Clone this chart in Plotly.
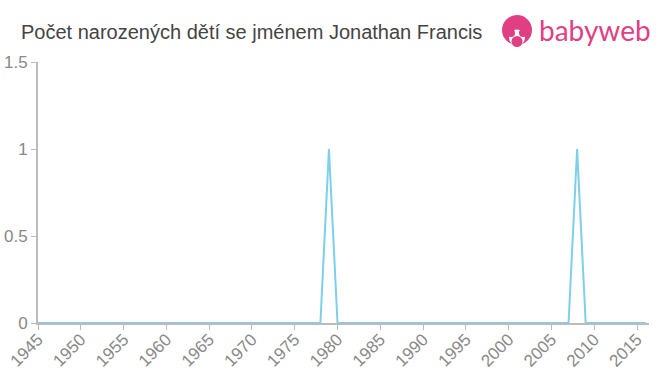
import plotly.graph_objects as go

years = list(range(1945, 2017))
peak_years = [1979, 2008]
peak_counts = [1, 1]
counts = [peak_counts[peak_years.index(y)] if y in peak_years else 0 for y in years]

x_ticks = list(range(1945, 2016, 5))
y_ticks = [0, 0.5, 1, 1.5]
y_tick_labels = ["0", "0.5", "1", "1.5"]

W, H = 660, 375
ML, MR, MT, MB = 38, 11, 62, 52
PW, PH = W - ML - MR, H - MT - MB
FONT = "Liberation Sans, Arial, sans-serif"

def px(x):
    return (x - ML) / PW

def py(y):
    return (H - MB - y) / PH

fig = go.Figure()
fig.add_trace(go.Scatter(x=years, y=counts, mode="lines",
                         line=dict(color="#7dcfec", width=2), hoverinfo="x+y"))

shapes = []
def circle(cx, cy, r, color):
    shapes.append(dict(type="circle", xref="paper", yref="paper",
                       x0=px(cx - r), x1=px(cx + r), y0=py(cy + r), y1=py(cy - r),
                       fillcolor=color, line=dict(width=0), layer="above"))

circle(517, 30, 15, "#e03f84")
circle(517, 37.5, 8, "#ffffff")
circle(511, 33, 4, "#e03f84")
circle(523, 33, 4, "#e03f84")
circle(517, 41.5, 5.5, "#e03f84")

fig.update_layout(
    width=W, height=H,
    margin=dict(l=ML, r=MR, t=MT, b=MB, autoexpand=False),
    paper_bgcolor="white", plot_bgcolor="white",
    showlegend=False,
    font=dict(family=FONT, color="#888888"),
    shapes=shapes,
    annotations=[
        dict(text="Počet narozených dětí se jménem Jonathan Francis",
             xref="paper", yref="paper", x=px(19), y=py(32),
             xanchor="left", yanchor="middle", showarrow=False,
             font=dict(size=20, color="#444444", family=FONT)),
        dict(text="babyweb", xref="paper", yref="paper", x=px(537), y=py(30),
             xanchor="left", yanchor="middle", showarrow=False,
             font=dict(size=28, color="#e03f84", family="Lato, Arial, sans-serif")),
    ],
    xaxis=dict(range=[1945, 2016.4], tickmode="array", tickvals=x_ticks,
               ticktext=[str(t) for t in x_ticks], tickangle=-45, automargin=False,
               showgrid=False, zeroline=False, showline=True, linecolor="#bbbbbb",
               linewidth=2, ticks="outside", ticklen=5, tickcolor="#bbbbbb",
               ticklabelstandoff=-7,
               tickfont=dict(size=17, color="#888888", family=FONT)),
    yaxis=dict(range=[0, 1.5], tickmode="array", tickvals=y_ticks, automargin=False,
               ticktext=y_tick_labels, showgrid=False, zeroline=False,
               showline=True, linecolor="#bbbbbb", linewidth=2,
               ticks="outside", ticklen=5, tickcolor="#bbbbbb",
               tickfont=dict(size=17, color="#888888", family=FONT)),
)

fig.write_html("out.html")
